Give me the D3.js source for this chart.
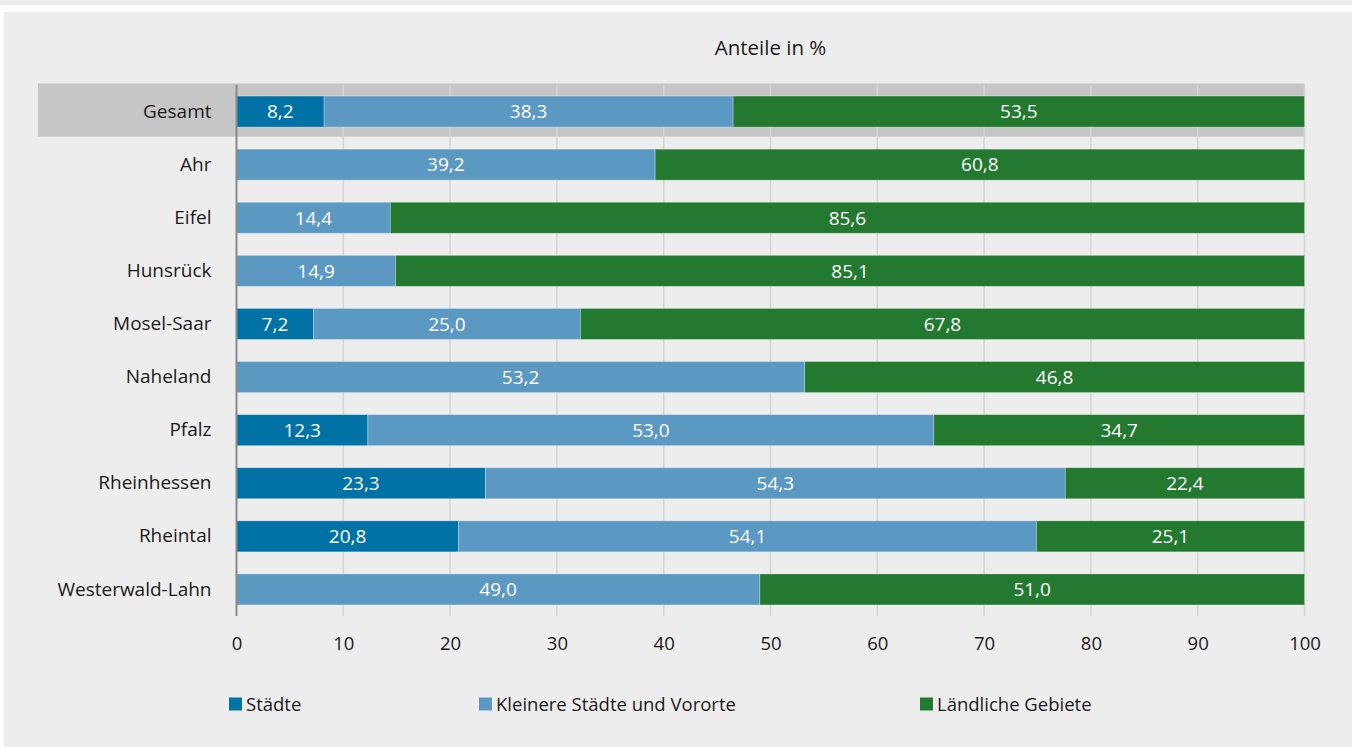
<!DOCTYPE html>
<html><head><meta charset="utf-8">
<script src="https://cdn.jsdelivr.net/npm/d3@7"></script>
<style>
html,body{margin:0;padding:0;background:#fff;}
svg{display:block;}
text{font-family:"Open Sans","Noto Sans",sans-serif;}
</style></head>
<body>
<svg id="c" width="1352" height="747"></svg>
<script>
const categories = ["Gesamt","Ahr","Eifel","Hunsrück","Mosel-Saar","Naheland","Pfalz","Rheinhessen","Rheintal","Westerwald-Lahn"];
const staedte =   [8.2, 0, 0, 0, 7.2, 0, 12.3, 23.3, 20.8, 0];
const kleinere =  [38.3, 39.2, 14.4, 14.9, 25.0, 53.2, 53.0, 54.3, 54.1, 49.0];
const laendlich = [53.5, 60.8, 85.6, 85.1, 67.8, 46.8, 34.7, 22.4, 25.1, 51.0];
const seriesNames = ["Städte","Kleinere Städte und Vororte","Ländliche Gebiete"];
const seriesColors = ["#0072a6","#5b99c3","#23792f"];
const xTicks = [0,10,20,30,40,50,60,70,80,90,100];
const axisTitle = "Anteile in %";

const FONT = '"Open Sans","Noto Sans",sans-serif';
const svg = d3.select("#c");
svg.append("rect").attr("x",0).attr("y",0).attr("width",1352).attr("height",747).attr("fill","#fff");
svg.append("rect").attr("x",0).attr("y",0).attr("width",1352).attr("height",5).attr("fill","#ededed");
svg.append("rect").attr("x",4).attr("y",12).attr("width",1348).attr("height",735).attr("fill","#ededed");

const x = d3.scaleLinear().domain([0,100]).range([236.5,1304.5]);
const pad = 1 - 31/53.1;
const y = d3.scaleBand().domain(categories).range([85,616]).paddingInner(pad).paddingOuter(pad/2);
const step = y.step();

// highlight band for Gesamt
svg.append("rect")
  .attr("x",38).attr("y",y("Gesamt") - (step - y.bandwidth())/2 - 1.5)
  .attr("width",x(100)-38).attr("height",step)
  .attr("fill","#c6c6c6");

// grid lines
svg.append("g").selectAll("line").data(xTicks.filter(d=>d>0)).join("line")
  .attr("x1",d=>x(d)).attr("x2",d=>x(d))
  .attr("y1",85).attr("y2",616)
  .attr("stroke","#d5d5d5").attr("stroke-width",1.5);

const data = categories.map((c,i)=>({cat:c, vals:[staedte[i],kleinere[i],laendlich[i]]}));
const segs = [];
data.forEach(d=>{
  let acc=0;
  d.vals.forEach((v,j)=>{ if(v>0){ segs.push({cat:d.cat, x0:acc, x1:acc+v, v, j}); } acc+=v; });
});

const gb = svg.append("g");
gb.selectAll("rect").data(segs).join("rect")
  .attr("x",d=>x(d.x0)).attr("width",d=>x(d.x1)-x(d.x0))
  .attr("y",d=>y(d.cat)).attr("height",y.bandwidth())
  .attr("fill",d=>seriesColors[d.j])
  .attr("stroke","rgba(255,255,255,0.35)").attr("stroke-width",0.8);

gb.selectAll("text").data(segs).join("text")
  .attr("x",d=>(x(d.x0)+x(d.x1))/2)
  .attr("y",d=>y(d.cat)+y.bandwidth()/2)
  .attr("dy","0.36em")
  .attr("text-anchor","middle")
  .attr("fill","#fff").attr("font-size",19)
  .text(d=>d3.format(".1f")(d.v).replace(".",","));

// y axis
const yAxis = d3.axisLeft(y).tickSize(0).tickPadding(25);
const gy = svg.append("g").attr("transform",`translate(${x(0)},0)`).call(yAxis);
gy.select(".domain").remove();
gy.selectAll("text").attr("font-size",19).attr("fill","#1a1a1a").attr("font-family",FONT);
svg.append("line").attr("x1",x(0)).attr("x2",x(0)).attr("y1",85).attr("y2",616)
  .attr("stroke","#8a8a8a").attr("stroke-width",2);

// x axis
const xAxis = d3.axisBottom(x).tickValues(xTicks).tickSize(0).tickPadding(0).tickFormat(d3.format("d"));
const gx = svg.append("g").attr("transform","translate(0,643)").call(xAxis);
gx.select(".domain").remove();
gx.selectAll("text").attr("dy","0.36em").attr("y",0).attr("font-size",18.5).attr("fill","#1a1a1a").attr("font-family",FONT);

// title
svg.append("text").attr("x",(x(0)+x(100))/2).attr("y",48).attr("dy","0.36em")
  .attr("text-anchor","middle").attr("font-size",20.5).attr("fill","#1a1a1a").text(axisTitle);

// legend
const legX = [229, 479, 920];
const lg = svg.append("g").selectAll("g").data(seriesNames).join("g")
  .attr("transform",(d,i)=>`translate(${legX[i]},704)`);
lg.append("rect").attr("x",0).attr("y",-6.5).attr("width",13).attr("height",13).attr("fill",(d,i)=>seriesColors[i]);
lg.append("text").attr("x",17).attr("y",0).attr("dy","0.36em").attr("font-size",18.5).attr("fill","#1a1a1a").text(d=>d);
</script>
</body></html>
